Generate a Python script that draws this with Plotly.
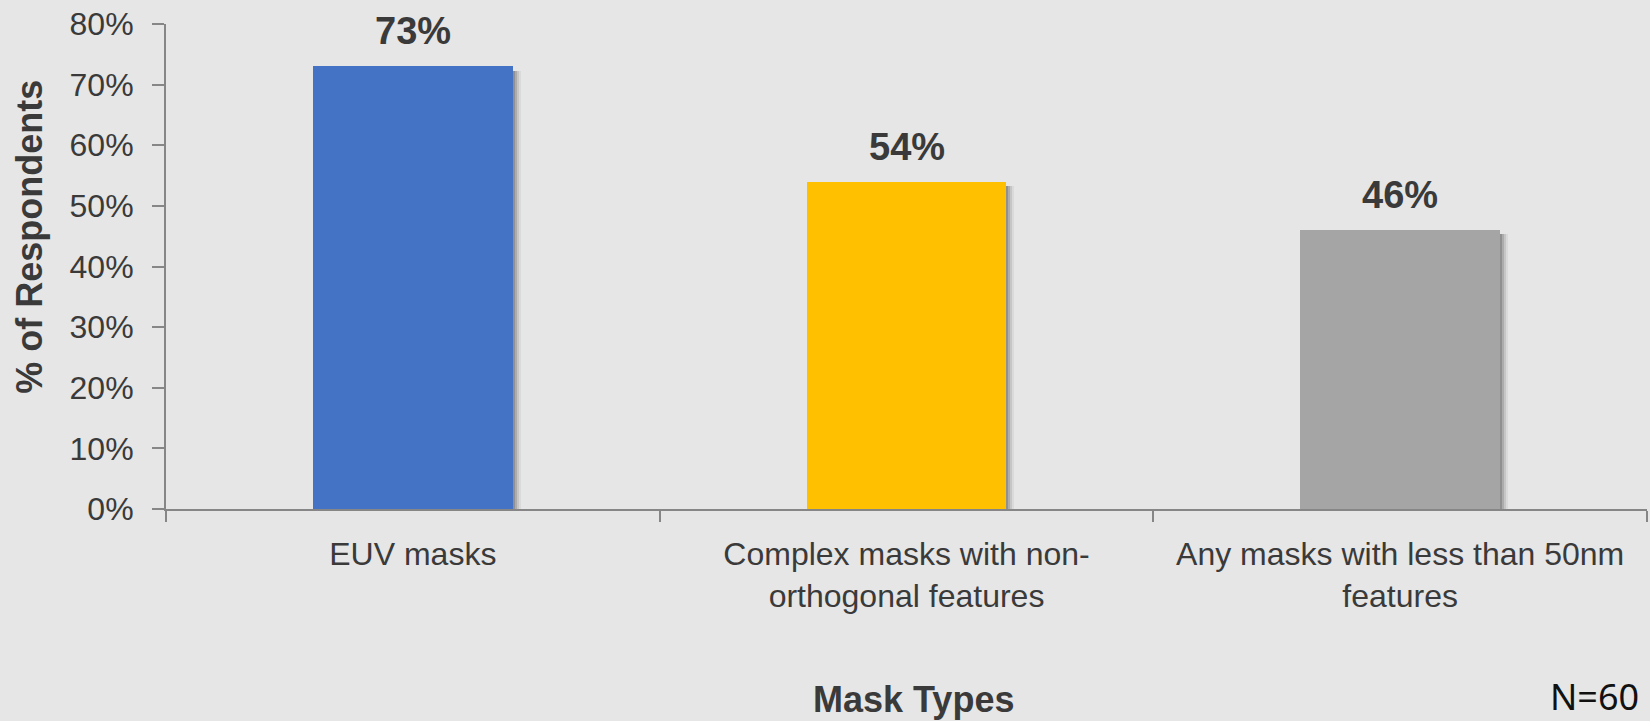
import plotly.graph_objects as go

# Survey results: share of respondents per mask type
categories = ["EUV masks", "Complex masks with non-<br>orthogonal features", "Any masks with less than 50nm<br>features"]
values = [73, 54, 46]
bar_colors = ["#4472C4", "#FFC000", "#A5A5A5"]
y_ticks = [0, 10, 20, 30, 40, 50, 60, 70, 80]
y_tick_labels = [f"{v}%" for v in y_ticks]

NARROW = "Liberation Sans Narrow, Arial Narrow, Liberation Sans, Arial, sans-serif"
TEXT = "#3a3a3a"
BG = "#E6E6E6"
BAR_W = 0.405

fig = go.Figure()

# soft drop shadow: a few offset, translucent copies of the bars
for dx, alpha in [(0.004, 0.16), (0.008, 0.13), (0.012, 0.09), (0.016, 0.05)]:
    fig.add_trace(go.Bar(
        x=categories, y=values, base=[-0.7] * len(values),
        width=BAR_W, offset=-BAR_W / 2 + dx,
        marker=dict(color=f"rgba(0,0,0,{alpha})", line=dict(width=0)),
        hoverinfo="skip", showlegend=False,
    ))

fig.add_trace(go.Bar(
    x=categories, y=values, width=BAR_W, offset=-BAR_W / 2,
    marker=dict(color=bar_colors, line=dict(width=0)),
    showlegend=False,
))

# value labels above each bar
for c, v in zip(categories, values):
    fig.add_annotation(
        x=c, y=v, text=f"<b>{v}%</b>", showarrow=False,
        yanchor="bottom", yshift=12,
        font=dict(family=NARROW, size=38, color=TEXT),
    )

fig.add_annotation(
    xref="paper", yref="paper", x=-0.092, y=0.561, textangle=-90,
    text="<b>% of Respondents</b>", showarrow=False,
    xanchor="center", yanchor="middle",
    font=dict(family=NARROW, size=36, color=TEXT),
)
fig.add_annotation(
    xref="paper", yref="paper", x=0.5044, y=-0.392,
    text="<b>Mask Types</b>", showarrow=False,
    xanchor="center", yanchor="middle",
    font=dict(family=NARROW, size=36, color=TEXT),
)
fig.add_annotation(
    xref="paper", yref="paper", x=0.996, y=-0.3876,
    text="N=60", showarrow=False,
    xanchor="right", yanchor="middle",
    font=dict(family="Noto Sans, Open Sans, sans-serif", size=36, color="#111111"),
)

fig.update_layout(
    width=1650, height=721,
    margin=dict(l=166, r=3, t=24, b=212),
    paper_bgcolor=BG, plot_bgcolor=BG,
    barmode="overlay", bargap=0,
    font=dict(family=NARROW, color=TEXT, size=32),
)
fig.update_xaxes(
    showline=True, linecolor="#868686", linewidth=2,
    ticks="outside", tickson="boundaries", ticklen=11, tickcolor="#868686", tickwidth=1.5,
    tickfont=dict(family=NARROW, size=32, color=TEXT), tickangle=0, automargin=False,
    showgrid=False, zeroline=False, ticklabelstandoff=16,
)
fig.update_yaxes(
    range=[0, 80], tickvals=y_ticks, ticktext=y_tick_labels,
    showline=True, linecolor="#868686", linewidth=2,
    ticks="outside", ticklen=12, tickcolor="#868686", tickwidth=1.5,
    tickfont=dict(family=NARROW, size=32, color=TEXT), automargin=False,
    showgrid=False, zeroline=False, ticklabelstandoff=12,
)

fig.write_html("out.html")
